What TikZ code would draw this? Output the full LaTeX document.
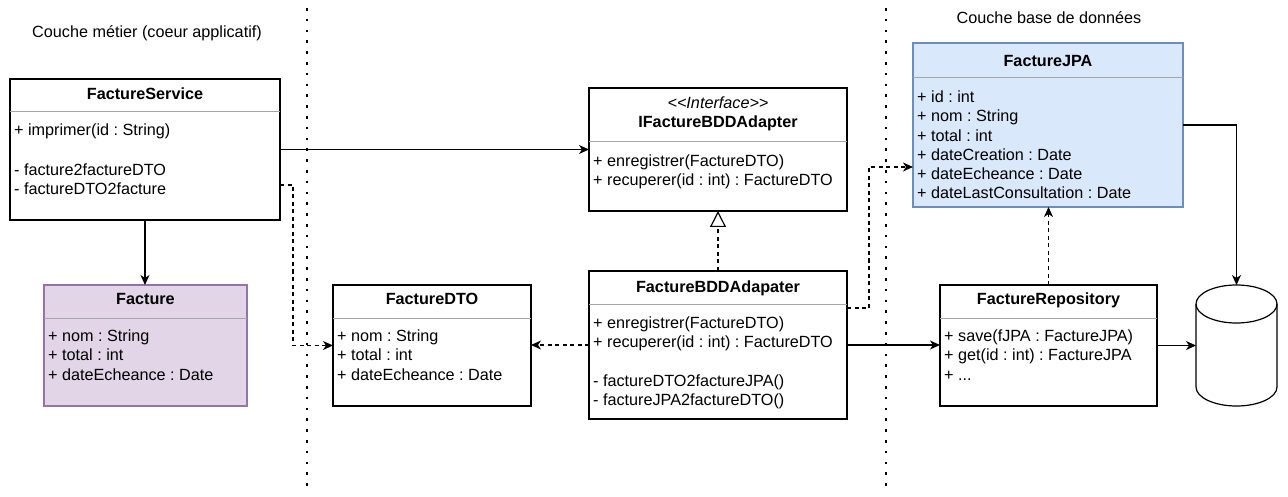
\documentclass[tikz,border=0pt]{standalone}
\usepackage{fontspec}
\setmainfont{Liberation Sans}
\usetikzlibrary{arrows.meta}
\frenchspacing
\newcommand\fsz{\fontsize{16.2}{19.2}\selectfont\frenchspacing}
\definecolor{purpfill}{HTML}{E1D5E7}
\definecolor{purpline}{HTML}{9673A6}
\definecolor{bluefill}{HTML}{DAE8FC}
\definecolor{blueline}{HTML}{6C8EBF}
\definecolor{divgray}{HTML}{A6A6A6}
\tikzset{
  cls/.style={draw, line width=1.2pt, fill=white, anchor=north west, inner sep=0pt, outer sep=0pt},
  div/.style={line width=1pt, draw=divgray},
  ttl/.style={anchor=base, inner sep=0pt, font=\fsz\bfseries},
  body/.style={anchor=north west, inner sep=0pt, align=left, font=\fsz},
  lbl/.style={anchor=base, inner sep=0pt, font=\fsz},
  conn/.style={line width=1.3pt, -{Stealth[length=10pt,width=9pt,inset=3pt]}},
  dep/.style={conn, line width=1.2pt, dash pattern=on 4pt off 3.5pt},
  real/.style={line width=1.2pt, dash pattern=on 4pt off 3.5pt, -{Triangle[open,length=16pt,width=16pt]}},
  layer/.style={line width=2.6pt, dash pattern=on 2.6pt off 8.2pt},
  cyl/.style={draw, fill=white, line width=1.2pt}
}
\begin{document}
\begin{tikzpicture}[x=1pt,y=-1pt]
\fill[white] (0,0) rectangle (1288,497);
\useasboundingbox (0,0) rectangle (1288,497);

% layer separators
\draw[layer] (307,8) -- (307,492);
\draw[layer] (886,8) -- (886,492);

% layer labels
\node[lbl] (lay1) at (147,37.5) {Couche métier (coeur applicatif)};
\node[lbl] (lay2) at (1049,23.5) {Couche base de données};

% boxes
\node[cls, minimum width=270pt, minimum height=141pt] (fs) at (10,79) {};
\node[cls, fill=purpfill, draw=purpline, minimum width=203pt, minimum height=121pt] (fac) at (44,285) {};
\node[cls, minimum width=198pt, minimum height=121pt] (dto) at (333,285) {};
\node[cls, minimum width=258pt, minimum height=123pt] (ifa) at (589,88) {};
\node[cls, minimum width=258pt, minimum height=148pt] (fba) at (589,271) {};
\node[cls, fill=bluefill, draw=blueline, minimum width=270pt, minimum height=164pt] (jpa) at (913,43) {};
\node[cls, minimum width=217pt, minimum height=121pt] (repo) at (940,285) {};
\node[inner sep=0pt, outer sep=0pt, minimum width=81pt, minimum height=121pt, anchor=north west] (db) at (1196,285) {};

% dividers
\draw[div] ([yshift=-33pt]fs.north west) -- ([yshift=-33pt]fs.north east);
\draw[div] ([yshift=-33pt]fac.north west) -- ([yshift=-33pt]fac.north east);
\draw[div] ([yshift=-33pt]dto.north west) -- ([yshift=-33pt]dto.north east);
\draw[div] ([yshift=-54pt]ifa.north west) -- ([yshift=-54pt]ifa.north east);
\draw[div] ([yshift=-33pt]fba.north west) -- ([yshift=-33pt]fba.north east);
\draw[div] ([yshift=-35pt]jpa.north west) -- ([yshift=-35pt]jpa.north east);
\draw[div] ([yshift=-33pt]repo.north west) -- ([yshift=-33pt]repo.north east);

% cylinder
\path[cyl] ([yshift=-19pt]db.north west) arc[start angle=180,end angle=0,x radius=40.5pt,y radius=19pt]
  -- ([yshift=19pt]db.south east) arc[start angle=0,end angle=-180,x radius=40.5pt,y radius=19pt] -- cycle;
\draw[line width=1.2pt] ([yshift=-19pt]db.north west) arc[start angle=180,end angle=360,x radius=40.5pt,y radius=19pt];

% texts
\node[ttl] (fs-t) at (145,99.5) {FactureService};
\node[body] (fs-a) at (14,123.5) {\rule{0pt}{12pt}+ imprimer(id : String)};
\node[body] (fs-b) at (14,163.5) {\rule{0pt}{12pt}- facture2factureDTO\\- factureDTO2facture};

\node[ttl] (fac-t) at (145.5,304.5) {Facture};
\node[body] (fac-a) at (48,329.5) {\rule{0pt}{12pt}+ nom : String\\+ total : int\\+ dateEcheance : Date};

\node[ttl] (dto-t) at (432,304.5) {FactureDTO};
\node[body] (dto-a) at (337,329.5) {\rule{0pt}{12pt}+ nom : String\\+ total : int\\+ dateEcheance : Date};

\node[lbl, font=\fsz\itshape] (ifa-s) at (718,108.5) {<{}<Interface>{}>};
\node[ttl] (ifa-t) at (718,127.5) {IFactureBDDAdapter};
\node[body] (ifa-a) at (593,154.5) {\rule{0pt}{12pt}+ enregistrer(FactureDTO)\\+ recuperer(id : int) : FactureDTO};

\node[ttl] (fba-t) at (718,292.5) {FactureBDDAdapater};
\node[body] (fba-a) at (593,316.5) {\rule{0pt}{12pt}+ enregistrer(FactureDTO)\\+ recuperer(id : int) : FactureDTO};
\node[body] (fba-b) at (593,374.5) {\rule{0pt}{12pt}- factureDTO2factureJPA()\\- factureJPA2factureDTO()};

\node[ttl] (jpa-t) at (1048,66.5) {FactureJPA};
\node[body] (jpa-a) at (917,90.5) {\rule{0pt}{12pt}+ id : int\\+ nom : String\\+ total : int\\+ dateCreation : Date\\+ dateEcheance : Date\\+ dateLastConsultation : Date};

\node[ttl] (repo-t) at (1048.5,304.5) {FactureRepository};
\node[body] (repo-a) at (944,329.5) {\rule{0pt}{12pt}+ save(fJPA : FactureJPA)\\+ get(id : int) : FactureJPA\\+ ...};

% connectors
\draw[conn] (fs.east) -- (ifa.west);
\draw[dep] ([yshift=-35.5pt]fs.east) -- ++(13,0) |- (dto.west);
\draw[conn] (fs.south) -- (fs.south |- fac.north);
\draw[real] (fba.north) -- (ifa.south);
\draw[dep] (fba.west) -- (fba.west -| dto.east);
\draw[dep] ([yshift=37pt]fba.east) -- ++(22,0) |- ([yshift=-42pt]jpa.west);
\draw[conn] (fba.east) -- (fba.east -| repo.west);
\draw[dep] (repo.north) -- (repo.north |- jpa.south);
\draw[conn] (repo.east) -- (db.west);
\draw[conn] (jpa.east) -| (db.north);
\end{tikzpicture}
\end{document}
